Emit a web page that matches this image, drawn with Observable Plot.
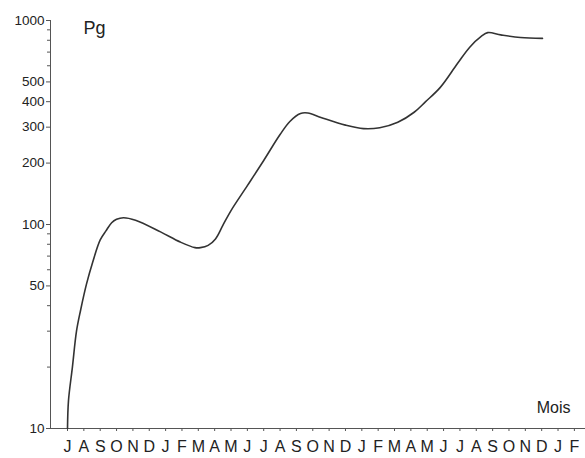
<!DOCTYPE html>
<html>
<head>
<meta charset="utf-8">
<script src="https://cdn.jsdelivr.net/npm/d3@7"></script>
<script src="https://cdn.jsdelivr.net/npm/@observablehq/plot@0.6"></script>
<style>
  html, body { margin: 0; padding: 0; background: #fff; }
  svg { display: block; }
</style>
</head>
<body>
<div id="chart"></div>
<script>
// Month tick labels (starting with July of year 1)
const monthLabels = ["J","A","S","O","N","D","J","F","M","A","M","J","J","A","S","O","N","D","J","F","M","A","M","J","J","A","S","O","N","D","J","F"];
// Time in months since the first July (fractional)
const months = [0, 0.06, 0.3, 0.55, 0.8, 1.16, 1.53, 2.0, 2.35, 2.7, 3.0, 3.42, 4.16, 5.69, 6.9, 7.8, 8.13, 8.6, 9.05, 9.5, 10.0, 11.0, 12.0, 13.0, 13.6, 14.25, 14.7, 15.5, 17.0, 18.1, 19.1, 20.2, 21.2, 21.9, 22.8, 23.85, 24.6, 25.3, 25.7, 26.5, 27.7, 29.05];
// Values in Pg (log scale)
const pg = [10, 13.7, 20, 30, 38, 51, 65, 84, 93, 102, 106, 108, 105, 92, 82, 77, 77, 79, 85, 99, 117, 155, 206, 276, 320, 350, 352, 335, 307, 295, 298, 317, 355, 400, 470, 615, 740, 835, 872, 850, 825, 817];
// Y ticks
const yLabeled = [10, 50, 100, 200, 300, 400, 500, 1000];
const yMinor = [20, 30, 40, 60, 70, 80, 90, 600, 700, 800, 900];

const data = months.map((m, i) => ({m, v: pg[i]}));
const xDomain = [-1.04, 31.68];
const font = "'Liberation Sans', Arial, sans-serif";

const chart = Plot.plot({
  width: 585,
  height: 458,
  marginLeft: 50,
  marginRight: 0,
  marginTop: 20,
  marginBottom: 30,
  style: {fontFamily: font, color: "#222", background: "#fff"},
  x: {domain: xDomain, axis: null},
  y: {type: "log", domain: [10, 1000], axis: null},
  marks: [
    Plot.ruleY([10], {stroke: "#555", strokeWidth: 1}),
    Plot.ruleX([xDomain[0]], {y1: 10, y2: 1000, stroke: "#555", strokeWidth: 1}),
    Plot.axisX({
      ticks: d3.range(monthLabels.length),
      tickFormat: i => monthLabels[i],
      tickSize: 3,
      tickPadding: 9,
      fontSize: 16,
      stroke: "#555",
      fill: "#222",
      label: null
    }),
    Plot.axisY({
      ticks: yLabeled,
      tickFormat: d => String(d),
      tickSize: 4,
      tickPadding: 2,
      fontSize: 13.5,
      stroke: "#555",
      fill: "#222",
      label: null
    }),
    Plot.axisY({
      ticks: yMinor,
      tickFormat: () => "",
      tickSize: 3,
      stroke: "#555",
      label: null
    }),
    Plot.line(data, {x: "m", y: "v", curve: "catmull-rom", stroke: "#333", strokeWidth: 1.6}),
    Plot.text(["Pg"], {frameAnchor: "top-left", dx: 33, dy: 1, fontSize: 18, fill: "#222", textAnchor: "start"}),
    Plot.text(["Mois"], {frameAnchor: "bottom-right", dx: -15, dy: -16, fontSize: 16, fill: "#222", textAnchor: "end"})
  ]
});
document.getElementById("chart").appendChild(chart);
</script>
</body>
</html>
